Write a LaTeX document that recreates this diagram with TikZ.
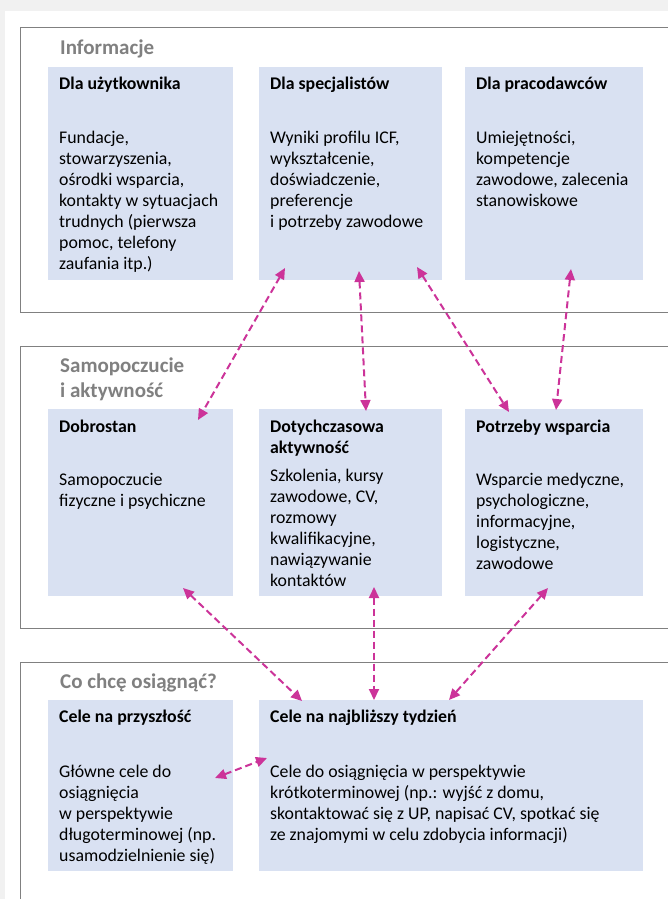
\documentclass[tikz,border=0pt]{standalone}
\usepackage{fontspec}
\setmainfont{Carlito}
\usetikzlibrary{arrows.meta}
\definecolor{boxblue}{RGB}{217,225,242}
\definecolor{conncol}{RGB}{204,51,153}
\definecolor{framegray}{RGB}{128,128,128}
\definecolor{titlegray}{RGB}{128,128,128}
\definecolor{bggray}{RGB}{241,241,241}
\newcommand\txtblock[1]{\parbox[t]{450pt}{\raggedright\fontsize{17.8}{21}\selectfont #1}}
\newcommand\ttlblock[1]{\parbox[t]{300pt}{\raggedright\fontsize{21}{25}\selectfont\bfseries #1}}
\begin{document}
\begin{tikzpicture}[x=1pt,y=-1pt,
  box/.style={fill=boxblue, draw=none, anchor=north west, inner sep=0pt},
  txt/.style={anchor=base west, inner sep=0pt, text=black},
  headtxt/.style={anchor=base west, inner sep=0pt, text=black, font=\fontsize{17.8}{21}\selectfont\bfseries},
  ttl/.style={anchor=base west, inner sep=0pt, text=titlegray},
  frame/.style={draw=framegray, line width=1pt},
  conn/.style={draw=conncol, line width=2pt, dash pattern=on 7pt off 4pt,
    {Triangle[length=11pt,width=10pt]}-{Triangle[length=11pt,width=10pt]}}
]
\useasboundingbox (0,0) rectangle (668,899);
\clip (0,0) rectangle (668,899);
\fill[bggray] (0,0) rectangle (668,899);
\fill[white] (5,11) rectangle (668,899);

% section frames
\draw[frame] (20,28) rectangle (720,312);
\draw[frame] (20,346) rectangle (720,628);
\draw[frame] (20,662) rectangle (720,960);

% titles
\node[ttl] (t1) at (60,55) {\ttlblock{Informacje}};
\node[ttl] (t2) at (60,372) {\ttlblock{Samopoczucie\\i aktywność}};
\node[ttl] (t3) at (60,688) {\ttlblock{Co chcę osiągnąć?}};

% section 1 boxes
\node[box, minimum width=185pt, minimum height=213pt] (user) at (48,67) {};
\node[box, minimum width=183pt, minimum height=213pt] (spec) at (259,67) {};
\node[box, minimum width=178pt, minimum height=213pt] (prac) at (465,67) {};
\node[headtxt] (userh) at (59,89) {Dla użytkownika};
\node[headtxt] (spech) at (270,89) {Dla specjalistów};
\node[headtxt] (prach) at (476,89) {Dla pracodawców};
\node[txt] (userb) at (59,143) {\txtblock{Fundacje,\\stowarzyszenia,\\ośrodki wsparcia,\\kontakty w sytuacjach\\trudnych (pierwsza\\pomoc, telefony\\zaufania itp.)}};
\node[txt] (specb) at (270,143) {\txtblock{Wyniki profilu ICF,\\wykształcenie,\\doświadczenie,\\preferencje\\i potrzeby zawodowe}};
\node[txt] (pracb) at (476,143) {\txtblock{Umiejętności,\\kompetencje\\zawodowe, zalecenia\\stanowiskowe}};

% section 2 boxes
\node[box, minimum width=185pt, minimum height=187pt] (dobr) at (48,409) {};
\node[box, minimum width=183pt, minimum height=187pt] (akt) at (259,409) {};
\node[box, minimum width=178pt, minimum height=187pt] (potr) at (465,409) {};
\node[headtxt] (dobrh) at (59,432) {Dobrostan};
\node[txt] (akth) at (270,432) {\parbox[t]{200pt}{\raggedright\fontsize{17.8}{21}\selectfont\bfseries Dotychczasowa\\aktywność}};
\node[headtxt] (potrh) at (476,432) {Potrzeby wsparcia};
\node[txt] (dobrb) at (59,485) {\txtblock{Samopoczucie\\fizyczne i psychiczne}};
\node[txt] (aktb) at (270,481) {\txtblock{Szkolenia, kursy\\zawodowe, CV,\\rozmowy\\kwalifikacyjne,\\nawiązywanie\\kontaktów}};
\node[txt] (potrb) at (476,485) {\txtblock{Wsparcie medyczne,\\psychologiczne,\\informacyjne,\\logistyczne,\\zawodowe}};

% section 3 boxes
\node[box, minimum width=185pt, minimum height=171pt] (przy) at (48,700) {};
\node[box, minimum width=384pt, minimum height=171pt] (tydz) at (259,700) {};
\node[headtxt] (przyh) at (59,722) {Cele na przyszłość};
\node[headtxt] (tydzh) at (270,722) {Cele na najbliższy tydzień};
\node[txt] (przyb) at (59,777) {\txtblock{Główne cele do\\osiągnięcia\\w perspektywie\\długoterminowej (np.\\usamodzielnienie się)}};
\node[txt] (tydzb) at (270,777) {\txtblock{Cele do osiągnięcia w perspektywie\\krótkoterminowej (np.: wyjść z domu,\\skontaktować się z UP, napisać CV, spotkać się\\ze znajomymi w celu zdobycia informacji)}};

% connector end points
\coordinate (specA) at (285,268);
\coordinate (specB) at (359,271);
\coordinate (specC) at (417,267);
\coordinate (pracA) at (571,269);
\coordinate (dobrT) at (198,420);
\coordinate (aktT) at (366,411);
\coordinate (potrT1) at (509,412);
\coordinate (potrT2) at (556,410);
\coordinate (dobrB) at (183,588);
\coordinate (aktB) at (374,587);
\coordinate (potrB) at (548,588);
\coordinate (tydzA) at (302,701);
\coordinate (tydzB) at (374,700);
\coordinate (tydzC) at (449,700);
\coordinate (tydzD) at (267,758);
\coordinate (przyA) at (215,778);

% connectors
\draw[conn] (specA) -- (dobrT);
\draw[conn] (specB) -- (aktT);
\draw[conn] (specC) -- (potrT1);
\draw[conn] (pracA) -- (potrT2);
\draw[conn] (dobrB) -- (tydzA);
\draw[conn] (aktB) -- (tydzB);
\draw[conn] (potrB) -- (tydzC);
\draw[conn] (przyA) -- (tydzD);
\end{tikzpicture}
\end{document}
